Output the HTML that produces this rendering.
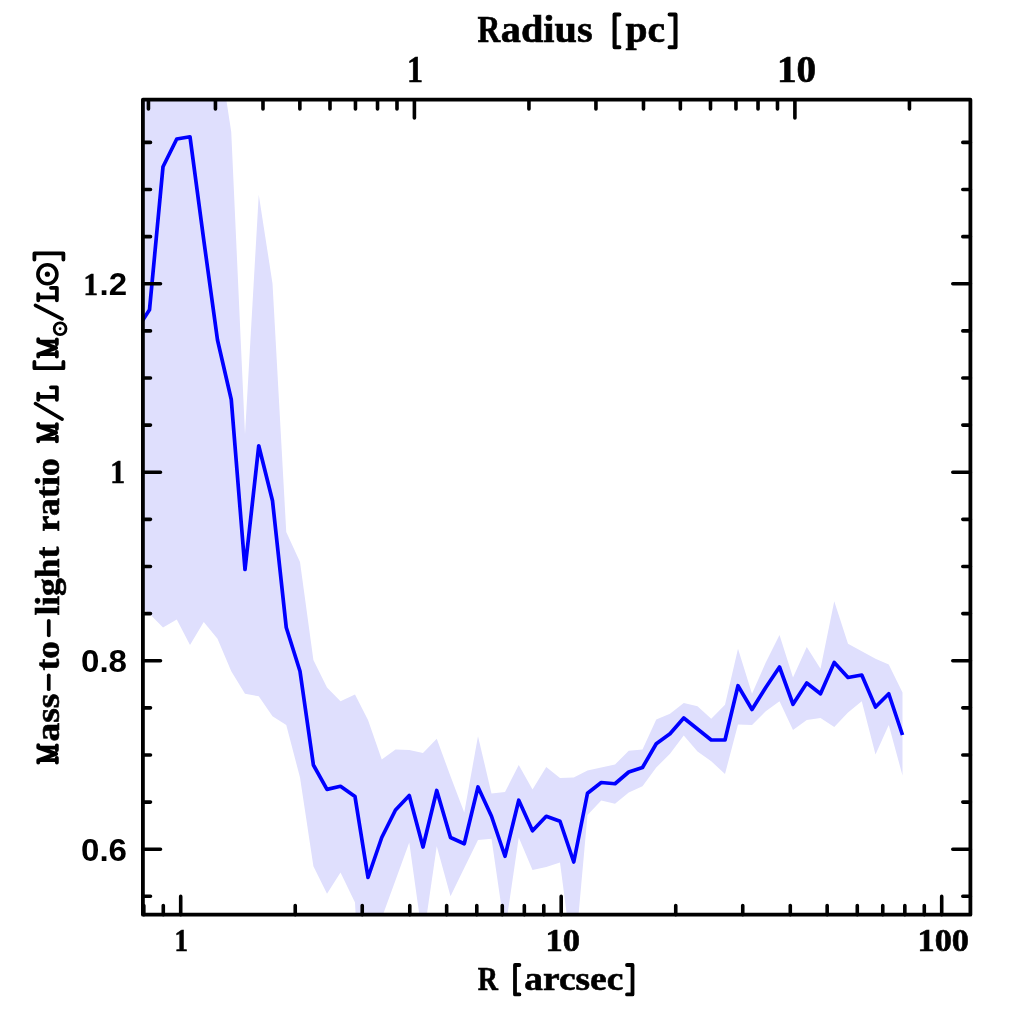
<!DOCTYPE html>
<html><head><meta charset="utf-8"><title>M/L profile</title>
<style>
html,body{margin:0;padding:0;background:#fff;}
body{width:1024px;height:1024px;overflow:hidden;font-family:"Liberation Serif",serif;}
svg{display:block;will-change:transform}
.s{font-family:"Liberation Serif",serif;font-weight:bold;fill:#000;stroke:#000;stroke-width:.6px}
.n{font-family:"Liberation Sans",sans-serif;font-weight:bold;fill:#000}
</style></head><body>
<svg width="1024" height="1024" viewBox="0 0 1024 1024">
<rect width="1024" height="1024" fill="#fff"/>
<defs><clipPath id="c"><rect x="142.9" y="99.7" width="827.5" height="815"/></clipPath></defs>
<g clip-path="url(#c)">
<path d="M135.8 40 L149.5 40 L163 40 L176.75 40 L190 40 L203.75 40 L217.5 42 L231.25 132 L245 434.5 L258.75 194.75 L272.5 283.5 L286.25 532 L300 562 L313.4 660 L327 687.5 L340.5 701.25 L355 694.4 L368 720 L381.75 759.5 L395.5 749.5 L409.25 750 L423 753 L436.75 738.75 L450.5 776.25 L464.25 812.5 L478 736.25 L491.5 793.4 L505 792 L518.75 765 L532.5 789.5 L546.25 767 L560 778 L573.75 777.5 L587.5 770.5 L601.25 767.5 L615 764.5 L628.75 750.75 L642.5 749.5 L656.25 719.5 L670 713.75 L683.75 703 L697.5 706.25 L711.25 718.75 L725 704.75 L738 648.75 L752 693.75 L765.75 662.5 L779.5 635 L793 677.5 L806.75 647 L820.5 668.75 L834.25 601.25 L848 643.75 L861.75 651.25 L875.5 658.75 L888.75 664.5 L902.5 692.5 L902.5 775.5 L888.75 725 L875.5 754.5 L861.75 701.25 L848 712.5 L834.25 727 L820.5 718 L806.75 720 L793 730 L779.5 701.25 L765.75 711.25 L752 725 L738 724.5 L725 774 L711.25 761.25 L697.5 751.6 L683.75 735.5 L670 753.75 L656.25 767.5 L642.5 786.25 L628.75 792.5 L615 803.75 L601.25 800.5 L587.5 815 L573.75 968 L560 862.5 L546.25 867 L532.5 870 L518.75 837.5 L505 931.5 L491.5 838.75 L478 840 L464.25 868 L450.5 896.25 L436.75 846.25 L423 941 L409.25 842.5 L395.5 880.25 L381.75 918 L368 1150 L355 902.5 L340.5 872.5 L327 893.75 L313.4 866.25 L300 777.5 L286.25 725 L272.5 716.25 L258.75 696.25 L245 693.75 L231.25 671.25 L217.5 638.75 L203.75 622 L190 645 L176.75 619.5 L163 627.5 L149.5 613.75 L135.8 603Z" fill="#dfdffd"/>
<path d="M135.8 330.8 L149.5 309.75 L163 166.75 L176.75 139 L190 136.75 L203.75 240 L217.5 340 L231.25 399.5 L245 569.5 L258.75 445.75 L272.5 500.75 L286.25 627.5 L300 671.25 L313.4 765 L327 789.4 L340.5 786.25 L355 796.6 L368 877.5 L381.75 837.5 L395.5 810 L409.25 795.5 L423 847 L436.75 790.5 L450.5 837.5 L464.25 843.75 L478 787 L491.5 816.25 L505 856.25 L518.75 800.25 L532.5 830.75 L546.25 816.25 L560 821.25 L573.75 862 L587.5 793.25 L601.25 782.5 L615 783.75 L628.75 772 L642.5 767.5 L656.25 743.75 L670 733.75 L683.75 718 L697.5 729 L711.25 740 L725 740 L738 685.75 L752 709.5 L765.75 687.5 L779.5 667 L793 704.25 L806.75 683 L820.5 693.75 L834.25 662.5 L848 677.5 L861.75 675 L875.5 707 L888.75 693.75 L902.5 735" fill="none" stroke="#0000ff" stroke-width="3.7" stroke-linejoin="round"/>
</g>
<path d="M148.44 99.7V108.9M215.44 99.7V108.9M262.98 99.7V108.9M299.86 99.7V108.9M329.99 99.7V108.9M355.46 99.7V108.9M143.83 914.7V905.5M377.53 99.7V108.9M163.29 914.7V905.5M396.99 99.7V108.9M180.7 914.7V896.4M414.4 99.7V118M295.24 914.7V905.5M528.94 99.7V108.9M362.24 914.7V905.5M595.94 99.7V108.9M409.78 914.7V905.5M643.48 99.7V108.9M446.66 914.7V905.5M680.36 99.7V108.9M476.79 914.7V905.5M710.49 99.7V108.9M502.26 914.7V905.5M735.96 99.7V108.9M524.33 914.7V905.5M758.03 99.7V108.9M543.79 914.7V905.5M777.49 99.7V108.9M561.2 914.7V896.4M794.9 99.7V118M675.74 914.7V905.5M909.44 99.7V108.9M742.74 914.7V905.5M790.28 914.7V905.5M827.16 914.7V905.5M857.29 914.7V905.5M882.76 914.7V905.5M904.83 914.7V905.5M924.29 914.7V905.5M941.7 914.7V896.4M142.9 896.32H150.5M970.4 896.32H962.8M142.9 849.2H160.5M970.4 849.2H952.8M142.9 802.08H150.5M970.4 802.08H962.8M142.9 754.96H150.5M970.4 754.96H962.8M142.9 707.84H150.5M970.4 707.84H962.8M142.9 660.72H160.5M970.4 660.72H952.8M142.9 613.6H150.5M970.4 613.6H962.8M142.9 566.48H150.5M970.4 566.48H962.8M142.9 519.36H150.5M970.4 519.36H962.8M142.9 472.24H160.5M970.4 472.24H952.8M142.9 425.12H150.5M970.4 425.12H962.8M142.9 378H150.5M970.4 378H962.8M142.9 330.88H150.5M970.4 330.88H962.8M142.9 283.76H160.5M970.4 283.76H952.8M142.9 236.64H150.5M970.4 236.64H962.8M142.9 189.52H150.5M970.4 189.52H962.8M142.9 142.4H150.5M970.4 142.4H962.8" fill="none" stroke="#000" stroke-width="3.6" stroke-linecap="round"/>
<rect x="142.9" y="99.7" width="827.5" height="815" fill="none" stroke="#000" stroke-width="3.8" stroke-linejoin="round"/>
<!-- titles -->
<text class="s" x="477.6" y="41.5" font-size="37.5" textLength="22.8" lengthAdjust="spacingAndGlyphs">R</text>
<text class="s" x="500.8" y="41.5" font-size="37.5" textLength="91.8" lengthAdjust="spacingAndGlyphs">adius</text>
<path d="M619.4 14.5H614.6V47.3H619.4" stroke="#000" stroke-width="4.1" stroke-linecap="round" stroke-linejoin="round" fill="none"/>
<text class="s" x="625.6" y="41.5" font-size="37.5" textLength="39.6" lengthAdjust="spacingAndGlyphs">pc</text>
<path d="M669.6 14.5H675.5V47.3H669.6" stroke="#000" stroke-width="4.1" stroke-linecap="round" stroke-linejoin="round" fill="none"/>
<text class="s" x="477.7" y="990" font-size="34.4" textLength="20.2" lengthAdjust="spacingAndGlyphs">R</text>
<path d="M519.4 965H515V994.4H519.4" stroke="#000" stroke-width="3.8" stroke-linecap="round" stroke-linejoin="round" fill="none"/>
<text class="s" x="524.3" y="990" font-size="34.4" textLength="99" lengthAdjust="spacingAndGlyphs">arcsec</text>
<path d="M627 965H632.5V994.4H627" stroke="#000" stroke-width="3.8" stroke-linecap="round" stroke-linejoin="round" fill="none"/>
<text class="s" x="174.5" y="951" font-size="31" textLength="13.5" lengthAdjust="spacingAndGlyphs">1</text>
<text class="s" x="545.5" y="951" font-size="31" textLength="34.5" lengthAdjust="spacingAndGlyphs">10</text>
<text class="s" x="917.5" y="951" font-size="31" textLength="51.5" lengthAdjust="spacingAndGlyphs">100</text>
<text class="s" x="407" y="82.4" font-size="37" textLength="16" lengthAdjust="spacingAndGlyphs">1</text>
<text class="s" x="777" y="82.4" font-size="37" textLength="39.2" lengthAdjust="spacingAndGlyphs">10</text>
<text class="s" x="83.5" y="294.7" font-size="32.5" textLength="14.5" lengthAdjust="spacingAndGlyphs">1</text>
<text class="n" x="99.5" y="294.7" font-size="30.6" textLength="27.5" lengthAdjust="spacingAndGlyphs">.2</text>
<text class="s" x="110.2" y="483.4" font-size="33.5" textLength="14.8" lengthAdjust="spacingAndGlyphs">1</text>
<text class="n" x="81" y="671.9" font-size="30.6" textLength="46" lengthAdjust="spacingAndGlyphs">0.8</text>
<text class="n" x="81" y="860.6" font-size="30.6" textLength="46" lengthAdjust="spacingAndGlyphs">0.6</text>
<!-- y title -->
<path transform="translate(58.75 763.5) rotate(-90)" d="M1 -1.9H5.7M3.3 -1.9V-20.5M0.9 -20.5H3.3L9.6 -2.6L15.9 -20.5H18.3M15.9 -20.5V-1.9M13.5 -1.9H18.2" stroke="#000" stroke-width="3.8" stroke-linecap="round" stroke-linejoin="round" fill="none"/>
<text class="s" transform="translate(58.75 741.6) rotate(-90)" font-size="34.4" textLength="48" lengthAdjust="spacingAndGlyphs">ass</text>
<path d="M48.75 689.2V675.3" stroke="#000" stroke-width="3.7" stroke-linecap="round" fill="none"/>
<text class="s" transform="translate(58.75 670.6) rotate(-90)" font-size="34.4" textLength="29.4" lengthAdjust="spacingAndGlyphs">to</text>
<path d="M48.75 635.3V620.8" stroke="#000" stroke-width="3.7" stroke-linecap="round" fill="none"/>
<text class="s" transform="translate(58.75 615.6) rotate(-90)" font-size="34.4" textLength="69" lengthAdjust="spacingAndGlyphs">light</text>
<text class="s" transform="translate(58.75 531.8) rotate(-90)" font-size="34.4" textLength="73.6" lengthAdjust="spacingAndGlyphs">ratio</text>
<path transform="translate(58.75 442.25) rotate(-90)" d="M1 -1.9H5.7M3.3 -1.9V-20.5M0.9 -20.5H3.3L9.6 -2.6L15.9 -20.5H18.3M15.9 -20.5V-1.9M13.5 -1.9H18.2" stroke="#000" stroke-width="3.8" stroke-linecap="round" stroke-linejoin="round" fill="none"/>
<path d="M62.2 419.15L35.4 403.6" stroke="#000" stroke-width="3.5" stroke-linecap="round" fill="none"/>
<path transform="translate(58.75 400.75) rotate(-90)" d="M0.9 -20.5H7M3.9 -20.5V-1.9M0.9 -1.9H13.4V-7.8" stroke="#000" stroke-width="3.8" stroke-linecap="round" stroke-linejoin="round" fill="none"/>
<path d="M34.4 361.9V368.2H63.4V361.9" stroke="#000" stroke-width="3.8" stroke-linecap="round" stroke-linejoin="round" fill="none"/>
<path transform="translate(58.75 357.5) rotate(-90)" d="M1 -1.9H5.7M3.3 -1.9V-20.5M0.9 -20.5H3.3L9.6 -2.6L15.9 -20.5H18.3M15.9 -20.5V-1.9M13.5 -1.9H18.2" stroke="#000" stroke-width="3.8" stroke-linecap="round" stroke-linejoin="round" fill="none"/>
<circle cx="60.1" cy="328.75" r="5.9" fill="none" stroke="#000" stroke-width="2.8"/><circle cx="60.1" cy="328.75" r="1.4" fill="#000"/>
<path d="M62.2 319L35.4 305.35" stroke="#000" stroke-width="3.5" stroke-linecap="round" fill="none"/>
<path transform="translate(58.75 301.25) rotate(-90)" d="M0.9 -20.5H7M3.9 -20.5V-1.9M0.9 -1.9H13.4V-7.8" stroke="#000" stroke-width="3.8" stroke-linecap="round" stroke-linejoin="round" fill="none"/>
<circle cx="47.4" cy="274.2" r="9.5" fill="none" stroke="#000" stroke-width="3.6"/><circle cx="47.4" cy="274.2" r="2.6" fill="#000"/>
<path d="M34.4 259.6V253.4H63.4V259.6" stroke="#000" stroke-width="3.8" stroke-linecap="round" stroke-linejoin="round" fill="none"/>
</svg>
</body></html>
